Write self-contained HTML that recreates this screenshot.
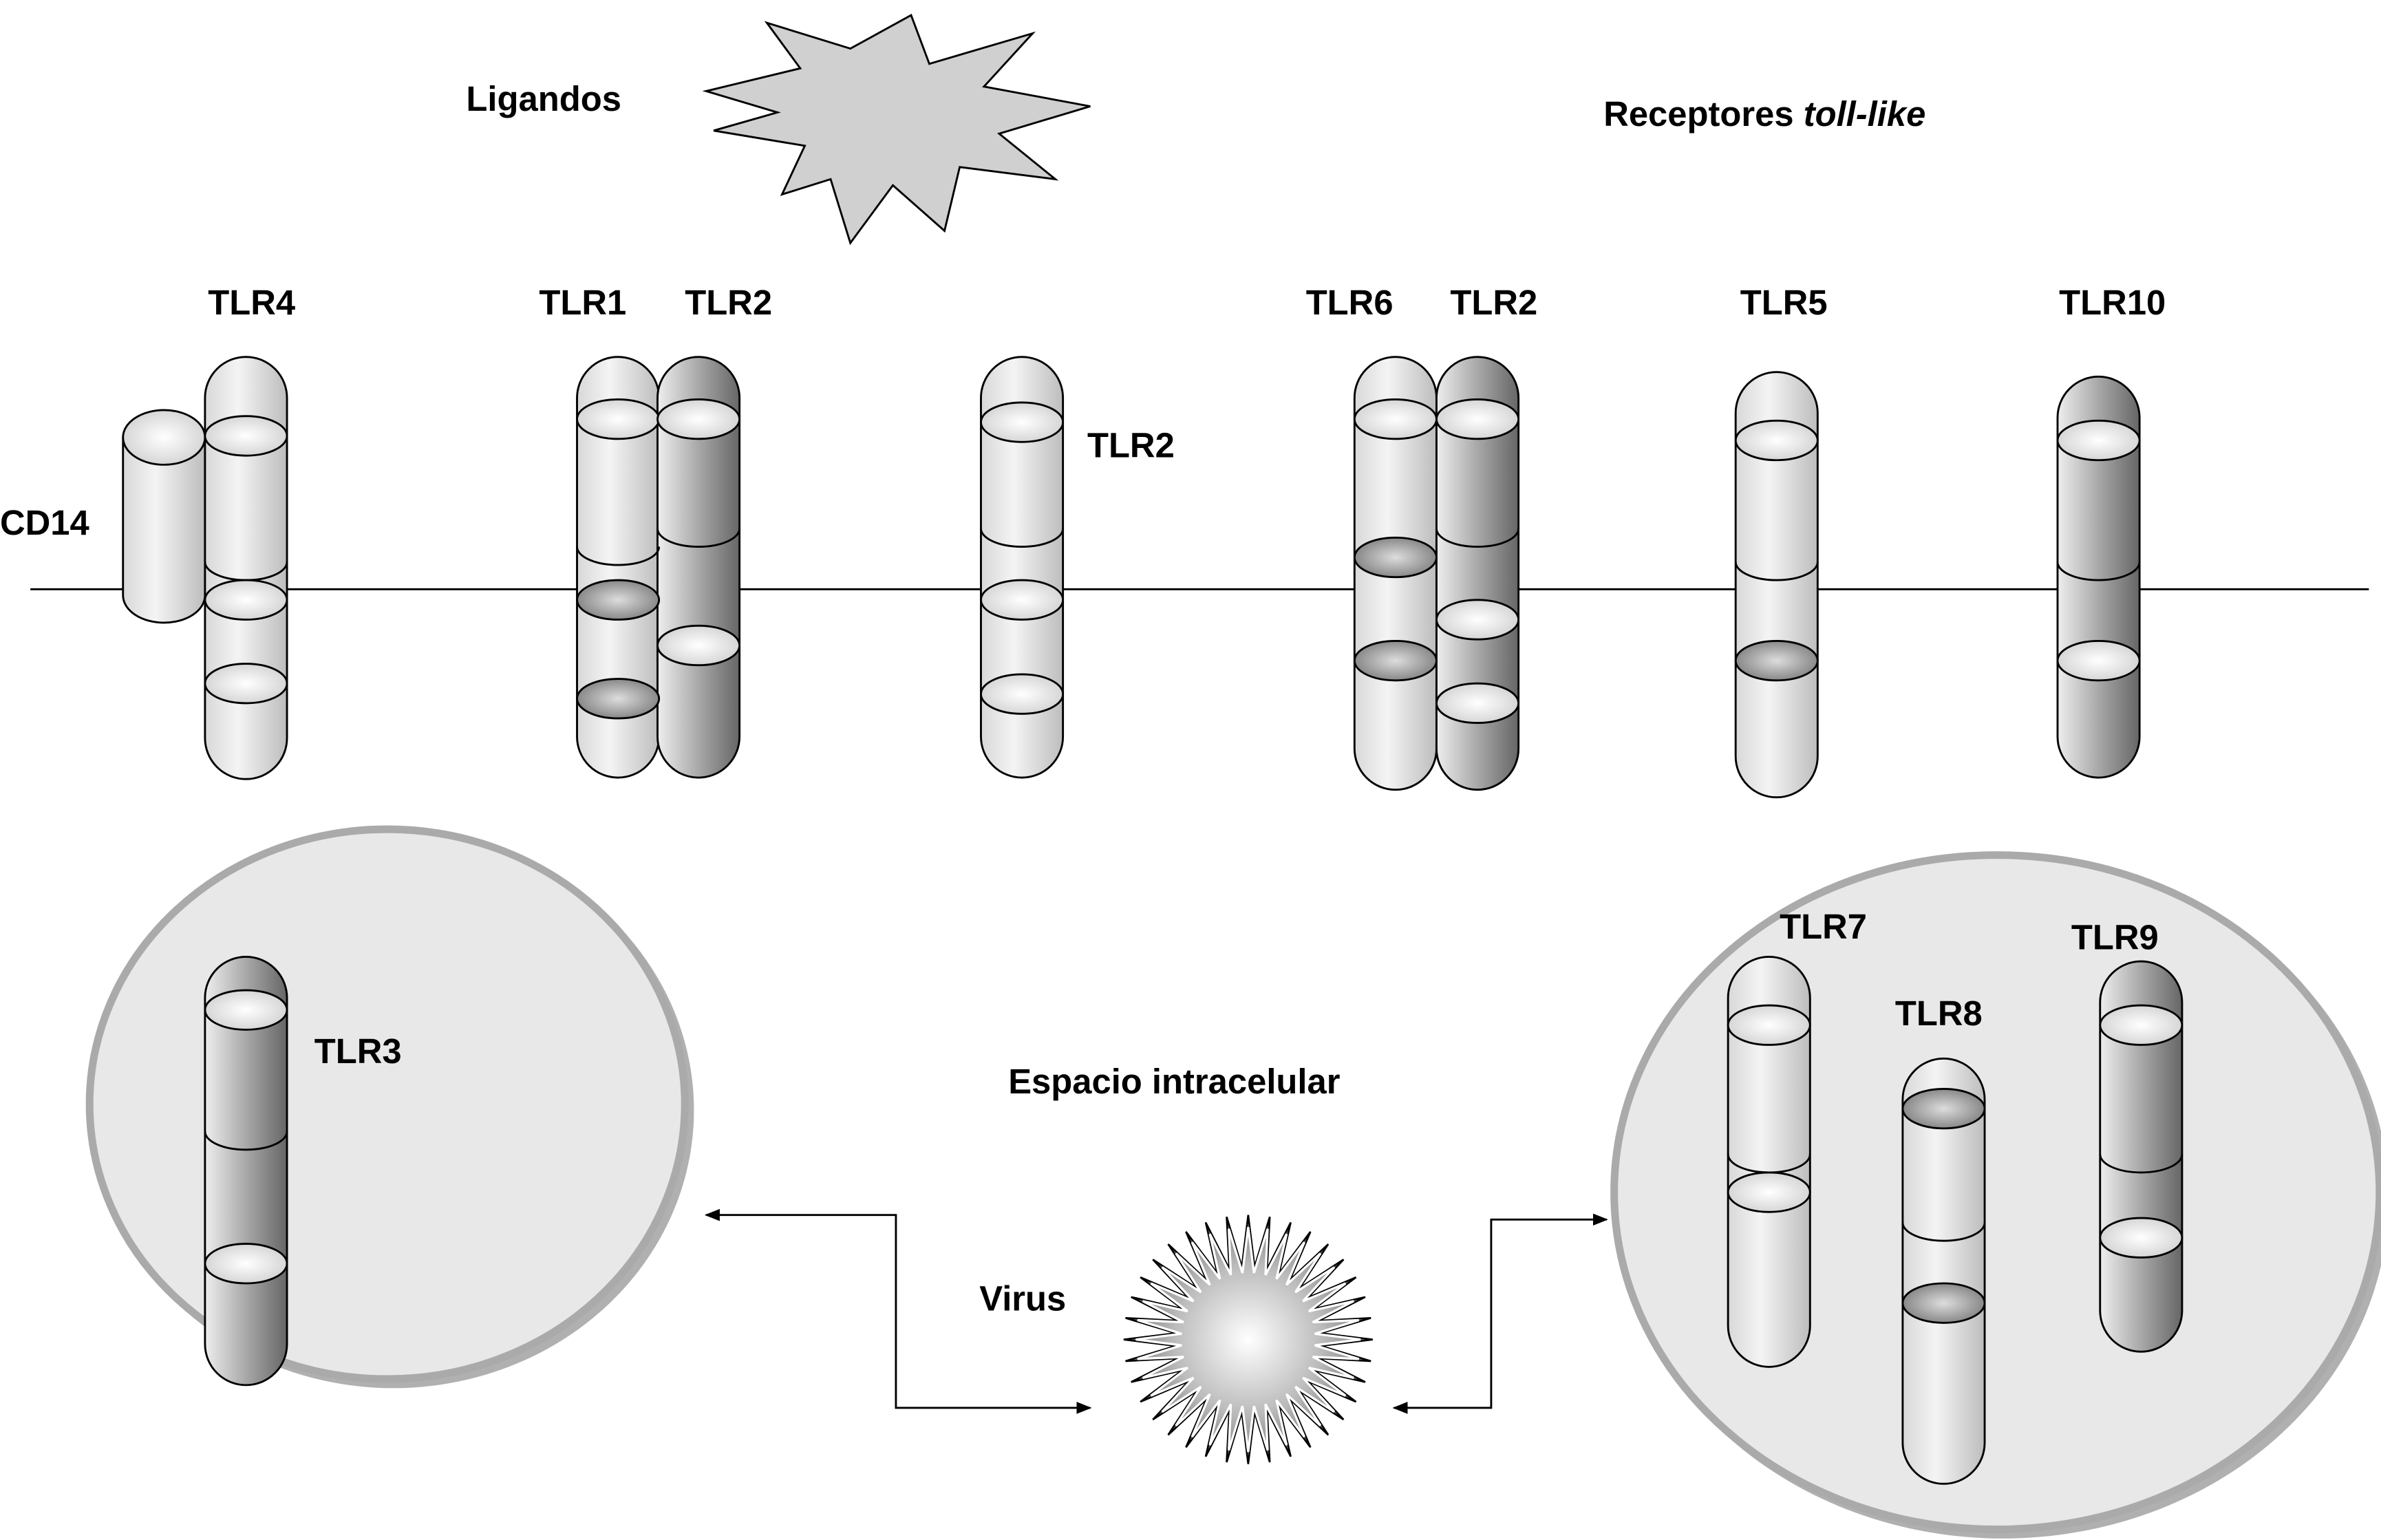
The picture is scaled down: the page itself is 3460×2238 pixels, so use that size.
<!DOCTYPE html>
<html><head><meta charset="utf-8"><style>
html,body{margin:0;padding:0;background:#fff;}
svg{display:block;width:3460px;height:2238px;}
text{font-family:"Liberation Sans",Arial,sans-serif;font-weight:bold;font-size:23px;fill:#000;}
</style></head><body>
<svg viewBox="0 0 1568 1014" preserveAspectRatio="none" xmlns="http://www.w3.org/2000/svg">
<defs>
<linearGradient id="gl" x1="0" x2="1" y1="0" y2="0"><stop offset="0" stop-color="#d8d8d8"/><stop offset="0.4" stop-color="#f4f4f4"/><stop offset="1" stop-color="#bdbdbd"/></linearGradient>
<linearGradient id="gd" x1="0" x2="1" y1="0" y2="0"><stop offset="0" stop-color="#eee"/><stop offset="0.5" stop-color="#a8a8a8"/><stop offset="1" stop-color="#666"/></linearGradient>
<radialGradient id="ge"><stop offset="0" stop-color="#fff"/><stop offset="1" stop-color="#d6d6d6"/></radialGradient>
<radialGradient id="ged"><stop offset="0" stop-color="#ddd"/><stop offset="1" stop-color="#888"/></radialGradient>
<radialGradient id="gv"><stop offset="0" stop-color="#fff"/><stop offset="0.6" stop-color="#bbb"/><stop offset="1" stop-color="#777"/></radialGradient>
<marker id="ah" markerWidth="10" markerHeight="10" refX="9" refY="5" orient="auto-start-reverse" markerUnits="userSpaceOnUse"><path d="M0,1 L10,5 L0,9 Z" fill="#000"/></marker>
</defs>
<rect width="1568" height="1014" fill="#fff"/>
<line x1="20" y1="388" x2="1560" y2="388" stroke="#000" stroke-width="1.3"/>

<path d="M81,288 L81,392 A27,18 0 0 0 135,392 L135,288 Z" fill="url(#gl)" stroke="#000" stroke-width="1.3"/>
<ellipse cx="108" cy="288" rx="27" ry="18" fill="url(#ge)" stroke="#000" stroke-width="1.3"/>

<g stroke="#000" stroke-width="1.3">
<path d="M135,262 A27,27 0 0 1 189,262 L189,486 A27,27 0 0 1 135,486 Z" fill="url(#gl)"/>
<path d="M380,262 A27,27 0 0 1 434,262 L434,485 A27,27 0 0 1 380,485 Z" fill="url(#gl)"/>
<path d="M433,262 A27,27 0 0 1 487,262 L487,485 A27,27 0 0 1 433,485 Z" fill="url(#gd)"/>
<path d="M646,262 A27,27 0 0 1 700,262 L700,485 A27,27 0 0 1 646,485 Z" fill="url(#gl)"/>
<path d="M892,262 A27,27 0 0 1 946,262 L946,493 A27,27 0 0 1 892,493 Z" fill="url(#gl)"/>
<path d="M946,262 A27,27 0 0 1 1000,262 L1000,493 A27,27 0 0 1 946,493 Z" fill="url(#gd)"/>
<path d="M1143,272 A27,27 0 0 1 1197,272 L1197,498 A27,27 0 0 1 1143,498 Z" fill="url(#gl)"/>
<path d="M1355,275 A27,27 0 0 1 1409,275 L1409,485 A27,27 0 0 1 1355,485 Z" fill="url(#gd)"/>
<path d="M135,370 A27,12 0 0 0 189,370 M380,360 A27,12 0 0 0 434,360 M433,348 A27,12 0 0 0 487,348 M646,348 A27,12 0 0 0 700,348 M946,348 A27,12 0 0 0 1000,348 M1143,370 A27,12 0 0 0 1197,370 M1355,370 A27,12 0 0 0 1409,370" fill="none"/>
<ellipse cx="162" cy="287" rx="27" ry="13" fill="url(#ge)"/>
<ellipse cx="162" cy="395" rx="27" ry="13" fill="url(#ge)"/>
<ellipse cx="162" cy="450" rx="27" ry="13" fill="url(#ge)"/>
<ellipse cx="407" cy="276" rx="27" ry="13" fill="url(#ge)"/>
<ellipse cx="407" cy="395" rx="27" ry="13" fill="url(#ged)"/>
<ellipse cx="407" cy="460" rx="27" ry="13" fill="url(#ged)"/>
<ellipse cx="460" cy="276" rx="27" ry="13" fill="url(#ge)"/>
<ellipse cx="460" cy="425" rx="27" ry="13" fill="url(#ge)"/>
<ellipse cx="673" cy="278" rx="27" ry="13" fill="url(#ge)"/>
<ellipse cx="673" cy="395" rx="27" ry="13" fill="url(#ge)"/>
<ellipse cx="673" cy="457" rx="27" ry="13" fill="url(#ge)"/>
<ellipse cx="919" cy="276" rx="27" ry="13" fill="url(#ge)"/>
<ellipse cx="919" cy="367" rx="27" ry="13" fill="url(#ged)"/>
<ellipse cx="919" cy="435" rx="27" ry="13" fill="url(#ged)"/>
<ellipse cx="973" cy="276" rx="27" ry="13" fill="url(#ge)"/>
<ellipse cx="973" cy="408" rx="27" ry="13" fill="url(#ge)"/>
<ellipse cx="973" cy="463" rx="27" ry="13" fill="url(#ge)"/>
<ellipse cx="1170" cy="290" rx="27" ry="13" fill="url(#ge)"/>
<ellipse cx="1170" cy="435" rx="27" ry="13" fill="url(#ged)"/>
<ellipse cx="1382" cy="290" rx="27" ry="13" fill="url(#ge)"/>
<ellipse cx="1382" cy="435" rx="27" ry="13" fill="url(#ge)"/>
</g>

<ellipse cx="259" cy="731" rx="198" ry="183" fill="#b0b0b0"/>
<ellipse cx="255" cy="727" rx="196" ry="181" fill="#e8e8e8" stroke="#aaa" stroke-width="5"/>
<ellipse cx="1319" cy="789" rx="254" ry="224" fill="#b0b0b0"/>
<ellipse cx="1315" cy="785" rx="252" ry="222" fill="#e8e8e8" stroke="#aaa" stroke-width="5"/>

<g stroke="#000" stroke-width="1.3">
<path d="M135,657 A27,27 0 0 1 189,657 L189,885 A27,27 0 0 1 135,885 Z" fill="url(#gd)"/>
<path d="M135,745 A27,12 0 0 0 189,745" fill="none"/>
<ellipse cx="162" cy="665" rx="27" ry="13" fill="url(#ge)"/>
<ellipse cx="162" cy="832" rx="27" ry="13" fill="url(#ge)"/>

<path d="M1138,657 A27,27 0 0 1 1192,657 L1192,873 A27,27 0 0 1 1138,873 Z" fill="url(#gl)"/>
<path d="M1138,760 A27,12 0 0 0 1192,760" fill="none"/>
<ellipse cx="1165" cy="675" rx="27" ry="13" fill="url(#ge)"/>
<ellipse cx="1165" cy="785" rx="27" ry="13" fill="url(#ge)"/>

<path d="M1253,724 A27,27 0 0 1 1307,724 L1307,950 A27,27 0 0 1 1253,950 Z" fill="url(#gl)"/>
<path d="M1253,805 A27,12 0 0 0 1307,805" fill="none"/>
<ellipse cx="1280" cy="730" rx="27" ry="13" fill="url(#ged)"/>
<ellipse cx="1280" cy="858" rx="27" ry="13" fill="url(#ged)"/>

<path d="M1383,660 A27,27 0 0 1 1437,660 L1437,863 A27,27 0 0 1 1383,863 Z" fill="url(#gd)"/>
<path d="M1383,760 A27,12 0 0 0 1437,760" fill="none"/>
<ellipse cx="1410" cy="675" rx="27" ry="13" fill="url(#ge)"/>
<ellipse cx="1410" cy="815" rx="27" ry="13" fill="url(#ge)"/>
</g>

<polygon points="465,60 527,45 505,15 560,32 600,10 612,42 680,22 648,57 718,70 658,88 695,118 632,110 622,152 588,122 560,160 547,118 515,128 530,96 470,86 512,74" fill="#d0d0d0" stroke="#000" stroke-width="1.3"/>

<polygon id="vir" fill="url(#gv)" stroke="#000" stroke-width="1.2"/>
<polygon id="vir2" fill="none" stroke="#fff" stroke-width="1.5"/>

<polyline points="465,800 590,800 590,927 718,927" fill="none" stroke="#000" stroke-width="1.3" marker-start="url(#ah)" marker-end="url(#ah)"/>
<polyline points="918,927 982,927 982,803 1058,803" fill="none" stroke="#000" stroke-width="1.3" marker-start="url(#ah)" marker-end="url(#ah)"/>

<text x="307" y="73">Ligandos</text>
<text x="1056" y="83">Receptores <tspan font-style="italic">toll-like</tspan></text>
<text x="137" y="207">TLR4</text>
<text x="355" y="207">TLR1</text>
<text x="451" y="207">TLR2</text>
<text x="716" y="301">TLR2</text>
<text x="860" y="207">TLR6</text>
<text x="955" y="207">TLR2</text>
<text x="1146" y="207">TLR5</text>
<text x="1356" y="207">TLR10</text>
<text x="0" y="352">CD14</text>
<text x="207" y="700">TLR3</text>
<text x="664" y="720">Espacio intracelular</text>
<text x="645" y="863">Virus</text>
<text x="1172" y="618">TLR7</text>
<text x="1248" y="675">TLR8</text>
<text x="1364" y="625">TLR9</text>
</svg>
<script>
(function(){
 function pts(cx,cy,ro,ri,n){var a=[];for(var i=0;i<2*n;i++){var r=i%2?ri:ro;var t=Math.PI*i/n;a.push((cx+r*Math.cos(t)).toFixed(1)+','+(cy+r*Math.sin(t)).toFixed(1));}return a.join(' ');}
 document.getElementById('vir').setAttribute('points',pts(822,882,82,48,36));
 document.getElementById('vir2').setAttribute('points',pts(822,882,74,44,36));
})();
</script>
</body></html>
